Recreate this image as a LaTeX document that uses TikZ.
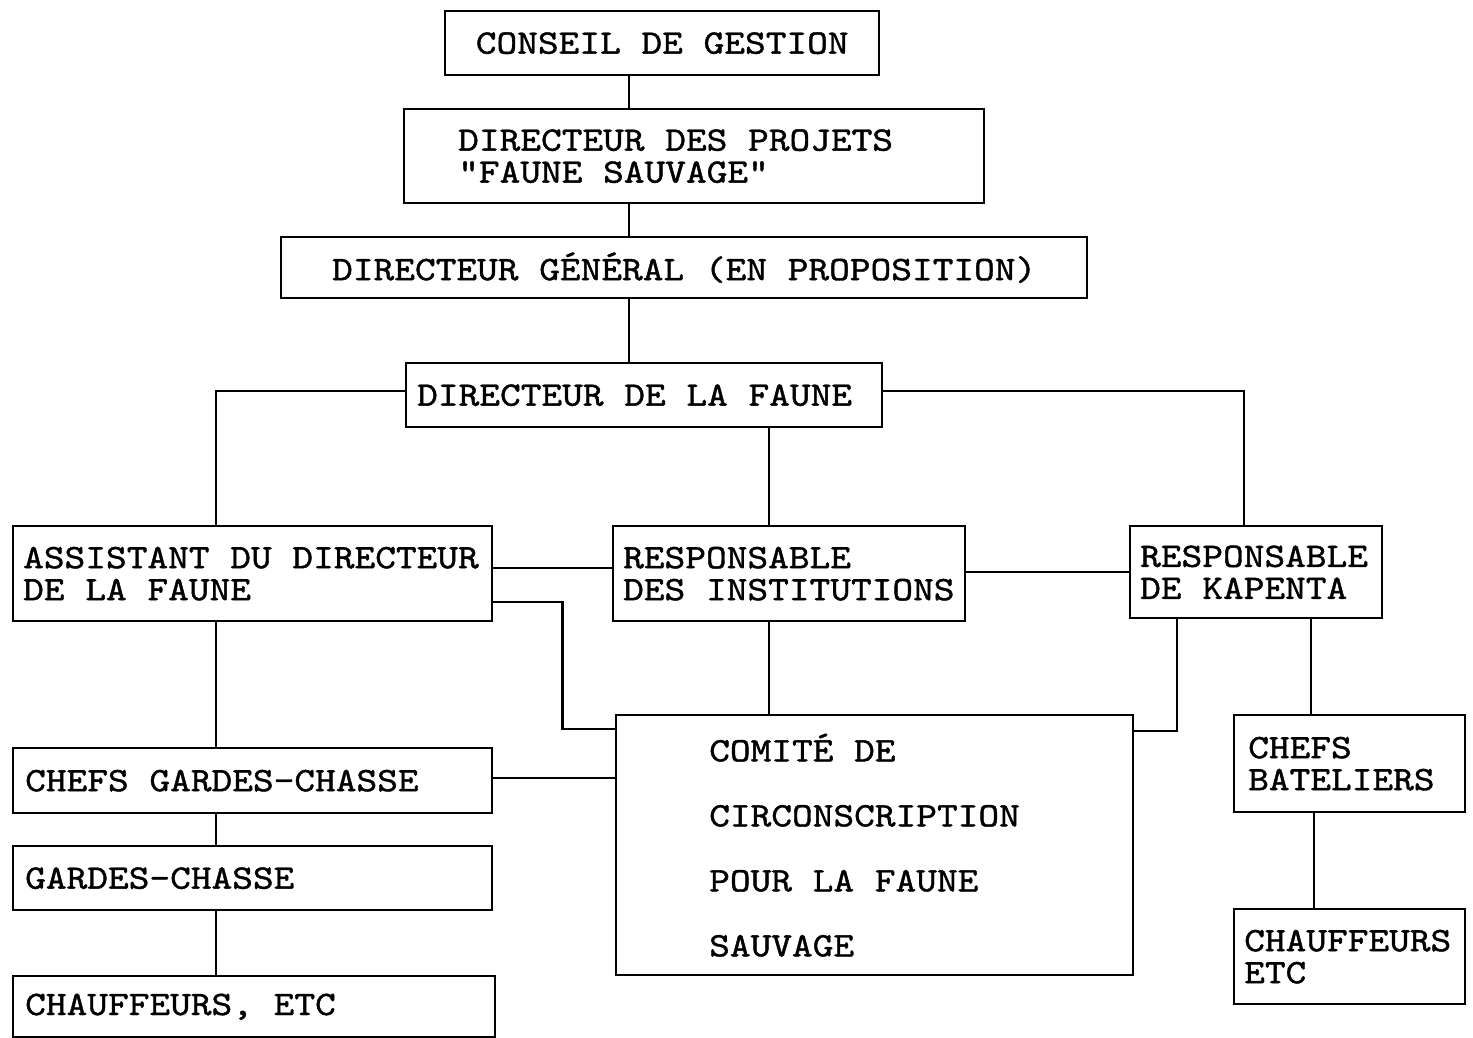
\documentclass[tikz,border=0pt]{standalone}
\usepackage{fontspec}
\usepackage{tikz}
\usetikzlibrary{positioning, calc}
\newfontfamily\typewriter[FakeStretch=1.15, FakeBold=1.2]{lmmono10-regular.otf}
\tikzset{
  orgbox/.style={
    draw=black,
    line width=1.2pt,
    anchor=north west,
    inner ysep=2pt,
    font=\typewriter\fontsize{17.15}{16}\selectfont
  },
  leftbox/.style={orgbox, align=flush left, inner xsep=5pt},
  link/.style={draw=black, line width=1.2pt}
}
\begin{document}
\begin{tikzpicture}[x=0.5pt, y=-0.5pt]
  \useasboundingbox (0,0) rectangle (1473,1038);

  \node[orgbox, minimum width=217pt, minimum height=32pt] (conseil) at (444,10) {CONSEIL DE GESTION};
  \node[leftbox, inner xsep=27pt, text width=236pt, minimum height=47pt] (projets) at (403,108) {DIRECTEUR DES PROJETS\\"FAUNE SAUVAGE"};
  \node[orgbox, minimum width=403pt, minimum height=30.5pt] (general) at (280,236) {DIRECTEUR GÉNÉRAL (EN PROPOSITION)};
  \node[leftbox, inner xsep=5.5pt, text width=227pt, minimum height=32pt] (faune) at (405,362) {DIRECTEUR DE LA FAUNE};

  \node[leftbox, text width=229.5pt, minimum height=47.5pt] (assistant) at (12,525) {ASSISTANT DU DIRECTEUR\\DE LA FAUNE};
  \node[leftbox, text width=166pt, minimum height=47.5pt] (institutions) at (612,525) {RESPONSABLE\\DES INSTITUTIONS};
  \node[leftbox, inner xsep=5pt, text width=116pt, minimum height=46pt] (kapenta) at (1129,525) {RESPONSABLE\\DE KAPENTA};

  \node[leftbox, inner xsep=6pt, text width=227.5pt, minimum height=32.5pt] (chefsgardes) at (12,747) {CHEFS GARDES-CHASSE};
  \node[leftbox, inner xsep=6pt, text width=227.5pt, minimum height=32pt] (gardes) at (12,845) {GARDES-CHASSE};
  \node[leftbox, inner xsep=6pt, text width=229pt, minimum height=30.5pt] (chauffeursA) at (12,975) {CHAUFFEURS, ETC};

  \node[leftbox, inner xsep=46.5pt, text width=165.5pt, minimum height=130pt,
        font=\typewriter\fontsize{17.15}{32.5}\selectfont] (comite) at (615,714)
        {COMITÉ DE\\CIRCONSCRIPTION\\POUR LA FAUNE\\SAUVAGE};
  \node[leftbox, inner xsep=7pt, text width=101.5pt, minimum height=48.5pt] (bateliers) at (1233,714) {CHEFS\\BATELIERS};
  \node[leftbox, inner xsep=5pt, text width=105.5pt, minimum height=47.5pt] (chauffeursB) at (1233,908) {CHAUFFEURS\\ETC};

  \draw[link] ([xshift=-16.5pt]conseil.south) -- ([xshift=-16.5pt]conseil.south |- projets.north);
  \draw[link] ([xshift=-32.5pt]projets.south) -- ([xshift=-32.5pt]projets.south |- general.north);
  \draw[link] ([xshift=-27.5pt]general.south) -- ([xshift=-27.5pt]general.south |- faune.north);
  \draw[link] ([yshift=2pt]faune.west) -| ([xshift=-18.25pt]assistant.north);
  \draw[link] ([yshift=2pt]faune.east) -| ([xshift=-6pt]kapenta.north);
  \draw[link] ([xshift=62.5pt]faune.south) -- ([xshift=62.5pt]faune.south |- institutions.north);
  \draw[link] ([yshift=3pt]assistant.east) -- ([yshift=3pt]assistant.east -| institutions.west);
  \draw[link] ([yshift=1pt]institutions.east) -- ([yshift=1pt]institutions.east -| kapenta.west);
  \draw[link] ([yshift=-14.25pt]assistant.east) -- ++(69,0) |- ([yshift=58pt]comite.west);
  \draw[link] ([xshift=-10pt]institutions.south) -- ([xshift=-10pt]institutions.south |- comite.north);
  \draw[link] ([xshift=-39.5pt]kapenta.south) |- ([yshift=57pt]comite.east);
  \draw[link] ([xshift=27.5pt]kapenta.south) -- ([xshift=27.5pt]kapenta.south |- bateliers.north);
  \draw[link] ([xshift=-17.75pt]bateliers.south) -- ([xshift=-17.75pt]bateliers.south |- chauffeursB.north);
  \draw[link] ([xshift=-18.25pt]assistant.south) -- ([xshift=-18.25pt]assistant.south |- chefsgardes.north);
  \draw[link] ([xshift=-18.25pt]chefsgardes.south) -- ([xshift=-18.25pt]chefsgardes.south |- gardes.north);
  \draw[link] ([xshift=-18.25pt]gardes.south) -- ([xshift=-18.25pt]gardes.south |- chauffeursA.north);
  \draw[link] ([yshift=1.25pt]chefsgardes.east) -- ([yshift=1.25pt]chefsgardes.east -| comite.west);
\end{tikzpicture}
\end{document}
